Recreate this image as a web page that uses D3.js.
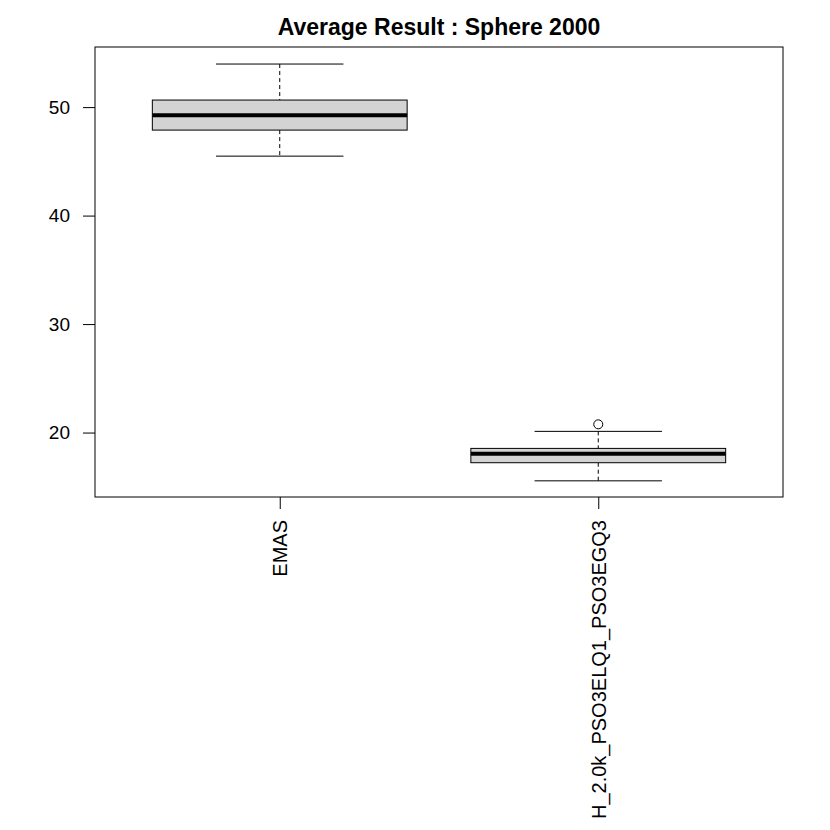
<!DOCTYPE html>
<html>
<head>
<meta charset="utf-8">
<script src="https://cdn.jsdelivr.net/npm/d3@7"></script>
<style>
  body { margin: 0; background: #fff; }
  svg text { font-family: "Liberation Sans", Arial, sans-serif; fill: #000; }
</style>
</head>
<body>
<div id="container"><svg></svg></div>
<script>
let width = 830;
let height = 830;

// box statistics
let groups = ['EMAS', 'H_2.0k_PSO3ELQ1_PSO3EGQ3'];
let lowerWhisker = [45.48, 15.55];
let q1 = [47.88, 17.22];
let median = [49.26, 18.05];
let q3 = [50.65, 18.54];
let upperWhisker = [53.97, 20.11];
let outliers = [[], [20.76]];
let yTicks = [20, 30, 40, 50];

let padding = {'left': 95, 'right': 47, 'top': 47, 'bottom': 333};
let fontFamily = '"Liberation Sans", Arial, sans-serif';

function draw_box() {
    let svg = d3.select('#container').select('svg')
        .attr('width', width)
        .attr('height', height);

    let x = d3.scaleLinear()
        .domain([0.42, 2.58])
        .range([padding.left, width - padding.right]);
    let y = d3.scaleLinear()
        .domain([14.06, 55.54])
        .range([height - padding.bottom, padding.top]);

    // title
    svg.append('text')
        .attr('x', (padding.left + width - padding.right) / 2)
        .attr('y', 35)
        .attr('text-anchor', 'middle')
        .style('font-size', '23px')
        .style('font-weight', 'bold')
        .text('Average Result : Sphere 2000');

    // y axis
    let yAxis = svg.append('g')
        .attr('transform', 'translate(' + padding.left + ',0)')
        .call(d3.axisLeft(y).tickValues(yTicks).tickSize(12).tickPadding(13));
    yAxis.select('.domain').remove();
    yAxis.selectAll('line').attr('stroke', '#000');
    yAxis.selectAll('text').style('font-size', '19px').style('font-family', fontFamily);

    // x axis
    let xAxis = svg.append('g')
        .attr('transform', 'translate(0,' + (height - padding.bottom) + ')')
        .call(d3.axisBottom(x).tickValues([1, 2]).tickSize(12).tickFormat((d, i) => groups[i]));
    xAxis.select('.domain').remove();
    xAxis.selectAll('line').attr('stroke', '#000');
    xAxis.selectAll('text')
        .style('font-size', '20px')
        .style('font-family', fontFamily)
        .attr('text-anchor', 'end')
        .attr('transform', 'rotate(-90)')
        .attr('x', -23)
        .attr('y', 0)
        .attr('dy', '0.35em');

    let half = 0.4;
    let g = svg.append('g');
    for (var i = 0; i < groups.length; ++i) {
        let c = i + 1;
        // whiskers
        g.append('line')
            .attr('x1', x(c)).attr('x2', x(c))
            .attr('y1', y(upperWhisker[i])).attr('y2', y(q3[i]))
            .attr('stroke', '#000').attr('stroke-dasharray', '4,3');
        g.append('line')
            .attr('x1', x(c)).attr('x2', x(c))
            .attr('y1', y(q1[i])).attr('y2', y(lowerWhisker[i]))
            .attr('stroke', '#000').attr('stroke-dasharray', '4,3');
        g.append('line')
            .attr('x1', x(c - half / 2)).attr('x2', x(c + half / 2))
            .attr('y1', y(upperWhisker[i])).attr('y2', y(upperWhisker[i]))
            .attr('stroke', '#000');
        g.append('line')
            .attr('x1', x(c - half / 2)).attr('x2', x(c + half / 2))
            .attr('y1', y(lowerWhisker[i])).attr('y2', y(lowerWhisker[i]))
            .attr('stroke', '#000');
        // box
        g.append('rect')
            .attr('x', x(c - half))
            .attr('y', y(q3[i]))
            .attr('width', x(c + half) - x(c - half))
            .attr('height', y(q1[i]) - y(q3[i]))
            .attr('fill', '#d3d3d3')
            .attr('stroke', '#000');
        // median
        g.append('line')
            .attr('x1', x(c - half)).attr('x2', x(c + half))
            .attr('y1', y(median[i])).attr('y2', y(median[i]))
            .attr('stroke', '#000').attr('stroke-width', 4);
        // outliers
        g.selectAll(null)
            .data(outliers[i])
            .enter()
            .append('circle')
            .attr('cx', x(c))
            .attr('cy', d => y(d))
            .attr('r', 4.5)
            .attr('fill', 'none')
            .attr('stroke', '#000');
    }

    // plot frame
    svg.append('rect')
        .attr('x', padding.left)
        .attr('y', padding.top)
        .attr('width', width - padding.left - padding.right)
        .attr('height', height - padding.top - padding.bottom)
        .attr('fill', 'none')
        .attr('stroke', '#000');
}

draw_box();
</script>
</body>
</html>
